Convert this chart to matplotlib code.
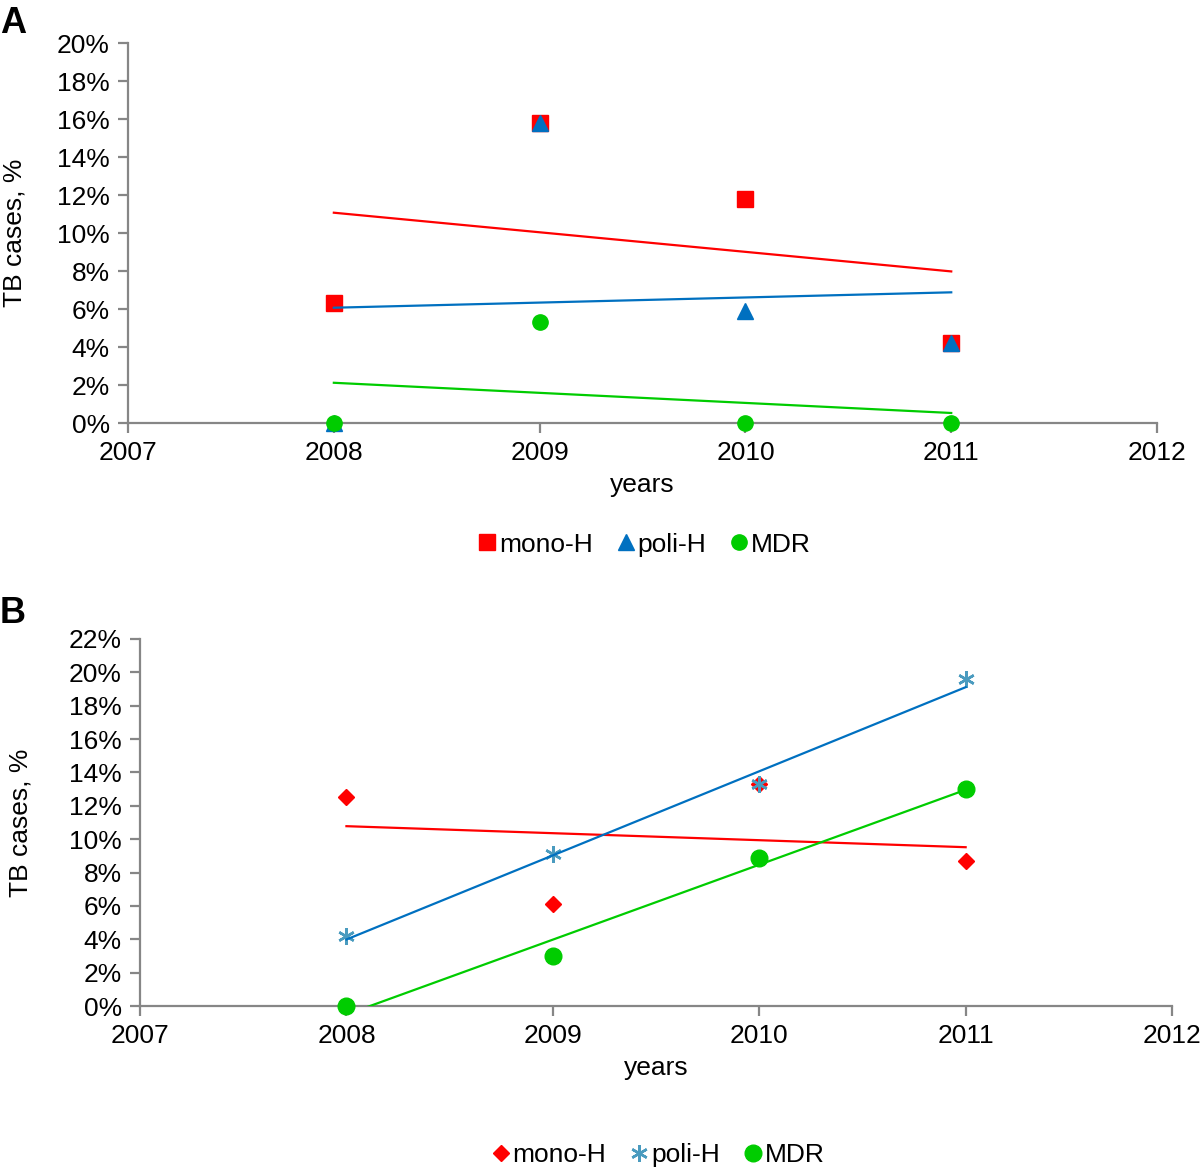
import numpy as np
import matplotlib.pyplot as plt

plt.rcParams['font.family'] = ['Liberation Sans', 'DejaVu Sans']

years = [2008, 2009, 2010, 2011]

# panel A values (%)
a_mono = [6.3, 15.8, 11.8, 4.2]
a_poli = [0.0, 15.8, 5.9, 4.2]
a_mdr = [0.0, 5.3, 0.0, 0.0]

# panel B values (%)
b_mono = [12.5, 6.1, 13.3, 8.7]
b_poli = [4.2, 9.1, 13.3, 19.6]
b_mdr = [0.0, 3.0, 8.9, 13.0]

RED = '#ff0000'
BLUE = '#0070c0'
GREEN = '#00cc00'
TEAL = '#4a9bbf'
GREY = '#868686'
FS = 19


def trend(ax, y, color):
    # linear trendline over the data range
    k, b = np.polyfit(years, y, 1)
    xs = np.array([years[0], years[-1]])
    ax.plot(xs, k * xs + b, color=color, lw=1.6, zorder=4)


def style(ax, ymax, ypad):
    ax.set_xlim(2007, 2012)
    ax.set_ylim(0, ymax)
    ax.set_xticks(range(2007, 2013))
    ax.set_yticks(range(0, ymax + 1, 2))
    ax.set_yticklabels([f'{v}%' for v in range(0, ymax + 1, 2)])
    for s in ['top', 'right']:
        ax.spines[s].set_visible(False)
    for s in ['left', 'bottom']:
        ax.spines[s].set_color(GREY)
        ax.spines[s].set_linewidth(1.6)
    ax.tick_params(colors=GREY, width=1.6, length=7, labelcolor='black',
                   labelsize=FS, pad=6)
    ax.set_xlabel('years', fontsize=FS, labelpad=6)
    ax.set_ylabel('TB cases, %', fontsize=FS, labelpad=ypad)
    ax.patch.set_alpha(0)


def legend(ax, y):
    ax.legend(loc='center', bbox_to_anchor=(0.5, y), ncol=3, frameon=False,
              fontsize=FS, handletextpad=-0.05, columnspacing=0.75,
              handlelength=1.0, markerscale=1.0)


fig = plt.figure(figsize=(12, 11.69), dpi=100)

axA = fig.add_axes([0.1067, 0.6381, 0.8575, 0.3251])
axA.plot(years, a_mono, ls='none', marker='s', ms=11, color=RED, label='mono-H', zorder=3, clip_on=False)
axA.plot(years, a_poli, ls='none', marker='^', ms=11, color=BLUE, label='poli-H', zorder=3, clip_on=False)
axA.plot(years, a_mdr, ls='none', marker='o', ms=11, color=GREEN, label='MDR', zorder=3, clip_on=False)
trend(axA, a_mono, RED)
trend(axA, a_poli, BLUE)
trend(axA, a_mdr, GREEN)
style(axA, 20, 22)
legend(axA, -0.32)

axB = fig.add_axes([0.1167, 0.1394, 0.86, 0.314])
axB.plot(years, b_mono, ls='none', marker='D', ms=8, color=RED, label='mono-H', zorder=3, clip_on=False)
axB.plot(years, b_poli, ls='none', marker=(6, 2, 0), ms=12, mew=1.8, color=TEAL, label='poli-H', zorder=3, clip_on=False)
axB.plot(years, b_mdr, ls='none', marker='o', ms=12, color=GREEN, label='MDR', zorder=3, clip_on=False)
trend(axB, b_mono, RED)
trend(axB, b_poli, BLUE)
trend(axB, b_mdr, GREEN)
style(axB, 22, 26)
legend(axB, -0.406)

fig.text(0.0, 0.995, 'A', fontsize=26, fontweight='bold', va='top', ha='left')
fig.text(0.0, 0.49, 'B', fontsize=26, fontweight='bold', va='top', ha='left')

fig.savefig('out.png', dpi=100)
